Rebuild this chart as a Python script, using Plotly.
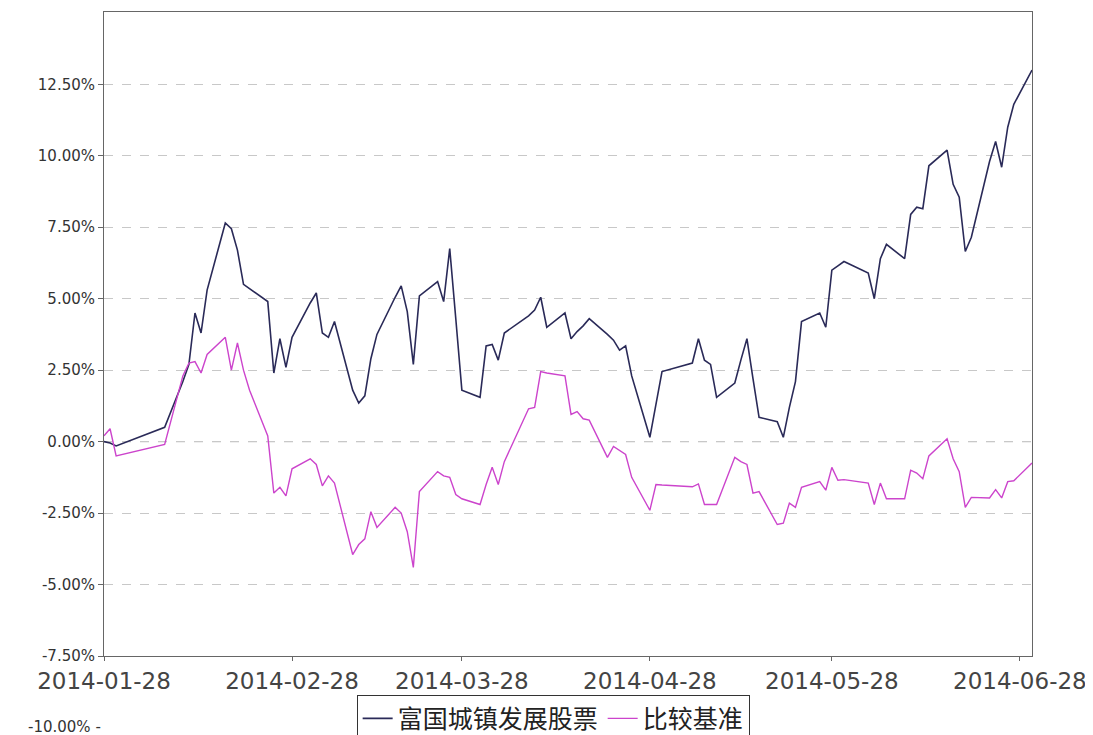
import plotly.graph_objects as go

# Trading days (2014) by month
trade_days = {
    1: [28, 29, 30],
    2: [7, 10, 11, 12, 13, 14, 17, 18, 19, 20, 21, 24, 25, 26, 27, 28],
    3: [3, 4, 5, 6, 7, 10, 11, 12, 13, 14, 17, 18, 19, 20, 21, 24, 25, 26, 27, 28, 31],
    4: [1, 2, 3, 4, 8, 9, 10, 11, 14, 15, 16, 17, 18, 21, 22, 23, 24, 25, 28, 29, 30],
    5: [5, 6, 7, 8, 9, 12, 13, 14, 15, 16, 19, 20, 21, 22, 23, 26, 27, 28, 29, 30],
    6: [3, 4, 5, 6, 9, 10, 11, 12, 13, 16, 17, 18, 19, 20, 23, 24, 25, 26, 27, 30],
}
dates = [f"2014-{m:02d}-{d:02d}" for m, ds in trade_days.items() for d in ds]

fund_name = "富国城镇发展股票"
bench_name = "比较基准"

# Cumulative return, %
fund = [
    0.0, -0.05, -0.15,
    0.5, 2.1, 2.7, 4.5, 3.8, 5.3, 7.65, 7.45, 6.7, 5.5, 5.35, 4.9, 2.4, 3.6, 2.6, 3.65,
    4.85, 5.2, 3.8, 3.65, 4.2, 1.8, 1.35, 1.6, 2.9, 3.75, 5.05, 5.45, 4.55, 2.7, 5.1,
    5.6, 4.9, 6.75, 4.3, 1.8, 1.55,
    3.35, 3.4, 2.85, 3.8, 4.4, 4.6, 5.05, 4.0, 4.5, 3.6, 3.85, 4.05, 4.3, 3.75, 3.55,
    3.2, 3.35, 2.3, 0.15, 1.3, 2.45,
    2.75, 3.6, 2.85, 2.7, 1.55, 2.05, 2.85, 3.6, 2.2, 0.85, 0.7, 0.15, 1.2, 2.1, 4.2,
    4.5, 4.0, 6.0, 6.15, 6.3,
    5.9, 5.0, 6.4, 6.9, 6.4, 7.95, 8.2, 8.15, 9.65, 10.2, 9.0, 8.55, 6.65, 7.15, 9.8,
    10.5, 9.6, 11.0, 11.8, 13.0,
]
bench = [
    0.2, 0.45, -0.5,
    -0.1, 2.3, 2.75, 2.8, 2.4, 3.05, 3.65, 2.5, 3.45, 2.5, 1.8, 0.2, -1.8, -1.6, -1.9, -0.95,
    -0.6, -0.8, -1.55, -1.2, -1.45, -3.95, -3.6, -3.4, -2.45, -3.0, -2.3, -2.5, -3.15, -4.4, -1.75,
    -1.05, -1.2, -1.25, -1.85, -2.0, -2.2,
    -1.5, -0.9, -1.5, -0.7, 1.15, 1.2, 2.45, 2.4, 2.3, 0.95, 1.05, 0.8, 0.75, -0.55, -0.17,
    -0.3, -0.45, -1.25, -2.4, -1.5, -1.52,
    -1.58, -1.48, -2.2, -2.2, -2.2, -0.55, -0.7, -0.8, -1.8, -1.75, -2.9, -2.85, -2.15, -2.3, -1.6,
    -1.4, -1.7, -0.9, -1.35, -1.33,
    -1.45, -2.2, -1.45, -2.0, -2.0, -1.0, -1.1, -1.3, -0.5, 0.1, -0.6, -1.05, -2.3, -1.95, -1.97,
    -1.68, -1.97, -1.4, -1.37, -0.75,
]
assert len(fund) == len(dates) == len(bench)

x_ticks = ["2014-01-28", "2014-02-28", "2014-03-28", "2014-04-28", "2014-05-28", "2014-06-28"]
y_ticks = [-7.5, -5.0, -2.5, 0.0, 2.5, 5.0, 7.5, 10.0, 12.5]
y_labels = [f"{v:.2f}%" for v in y_ticks]

fig = go.Figure()
fig.add_trace(go.Scatter(x=dates, y=fund, mode="lines", name=fund_name,
                         line=dict(color="#2a2a58", width=1.6)))
fig.add_trace(go.Scatter(x=dates, y=bench, mode="lines", name=bench_name,
                         line=dict(color="#cc44cc", width=1.4)))

fig.add_hline(y=0, line=dict(color="#707070", width=1, dash="dash"), layer="below")

# page body has an 8px margin, so the figure is sized to end at the window edge
fig.update_layout(
    width=1085, height=727,
    margin=dict(l=96, r=61, t=4, b=79, autoexpand=False),
    plot_bgcolor="white", paper_bgcolor="white",
    font=dict(family="DejaVu Sans", color="#333333"),
    showlegend=True,
    legend=dict(orientation="h", x=0.484, xanchor="center", y=-0.06, yanchor="top",
                bordercolor="#333333", borderwidth=1, bgcolor="white",
                font=dict(family="Noto Sans CJK SC", size=25, color="#222222"),
                itemwidth=30),
    xaxis=dict(type="date", range=["2014-01-28", "2014-06-30"],
               tickvals=x_ticks, ticktext=x_ticks,
               tickfont=dict(size=23, color="#444444"),
               ticks="outside", ticklen=4, tickcolor="#666666",
               showgrid=False, showline=True, linecolor="#666666", linewidth=1, mirror=True,
               zeroline=False),
    yaxis=dict(range=[-7.5, 15.03], tickvals=y_ticks, ticktext=y_labels,
               tickfont=dict(size=15, color="#333333"),
               ticks="outside", ticklen=5, tickcolor="#666666",
               showgrid=True, gridcolor="#c8c8c8", griddash="dash", gridwidth=1,
               showline=True, linecolor="#666666", linewidth=1, mirror=True,
               zeroline=False),
)

fig.add_annotation(text="-10.00% -", x=-0.001, y=-0.11, xref="paper", yref="paper",
                   xanchor="right", yanchor="middle", showarrow=False,
                   font=dict(size=15, color="#333333"))

fig.write_html("out.html")
